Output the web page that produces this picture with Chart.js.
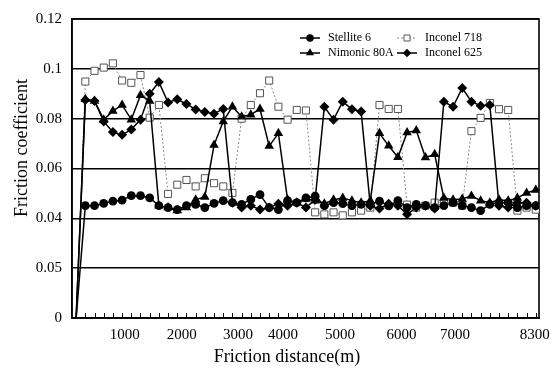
<!DOCTYPE html>
<html>
<head>
<meta charset="utf-8">
<script src="https://cdn.jsdelivr.net/npm/chart.js@4/dist/chart.umd.min.js"></script>
<style>
  html, body { margin: 0; padding: 0; background: #fff; }
  #wrap { width: 555px; height: 369px; position: relative; }
</style>
</head>
<body>
<div id="wrap"><canvas id="frictionChart"></canvas></div>
<script>
// measurement points along the friction distance (point 0 = start of test)
const pointIndex = Array.from({ length: 51 }, (_, i) => i);

const stellite6 = [
  0, 0.0451, 0.0451, 0.0460, 0.0469, 0.0473, 0.0491, 0.0491, 0.0482, 0.0451,
  0.0443, 0.0435, 0.0451, 0.0456, 0.0443, 0.0460, 0.0471, 0.0463, 0.0456, 0.0476,
  0.0495, 0.0443, 0.0435, 0.0471, 0.0463, 0.0482, 0.0489, 0.0451, 0.0463, 0.0459,
  0.0451, 0.0456, 0.0456, 0.0469, 0.0450, 0.0471, 0.0443, 0.0456, 0.0451, 0.0443,
  0.0451, 0.0463, 0.0451, 0.0443, 0.0431, 0.0456, 0.0463, 0.0463, 0.0443, 0.0451,
  0.0451,
];
const inconel718 = [
  0, 0.0949, 0.0992, 0.1005, 0.1022, 0.0953, 0.0944, 0.0975, 0.0804, 0.0855,
  0.0498, 0.0535, 0.0554, 0.0528, 0.0561, 0.0541, 0.0528, 0.0502, 0.0800, 0.0855,
  0.0902, 0.0953, 0.0848, 0.0796, 0.0835, 0.0833, 0.0424, 0.0416, 0.0424, 0.0412,
  0.0424, 0.0431, 0.0443, 0.0855, 0.0839, 0.0839, 0.0455, 0.0443, 0.0451, 0.0463,
  0.0467, 0.0463, 0.0451, 0.0750, 0.0803, 0.0863, 0.0838, 0.0835, 0.0431, 0.0443,
  0.0435,
];
const nimonic80A = [
  0, 0.0878, 0.0871, 0.0796, 0.0831, 0.0855, 0.0796, 0.0894, 0.0871, 0.0451,
  0.0443, 0.0431, 0.0443, 0.0475, 0.0486, 0.0694, 0.0789, 0.0848, 0.0808, 0.0816,
  0.0839, 0.0690, 0.0741, 0.0475, 0.0463, 0.0478, 0.0471, 0.0459, 0.0475, 0.0482,
  0.0471, 0.0463, 0.0471, 0.0741, 0.0691, 0.0645, 0.0744, 0.0753, 0.0644, 0.0657,
  0.0482, 0.0475, 0.0478, 0.0490, 0.0471, 0.0463, 0.0475, 0.0471, 0.0482, 0.0502,
  0.0514,
];
const inconel625 = [
  0, 0.0875, 0.0871, 0.0789, 0.0746, 0.0735, 0.0757, 0.0796, 0.0900, 0.0947,
  0.0865, 0.0878, 0.0859, 0.0837, 0.0827, 0.0820, 0.0839, 0.0463, 0.0443, 0.0451,
  0.0435, 0.0443, 0.0459, 0.0451, 0.0463, 0.0443, 0.0475, 0.0848, 0.0796, 0.0868,
  0.0838, 0.0829, 0.0451, 0.0439, 0.0459, 0.0451, 0.0416, 0.0443, 0.0451, 0.0439,
  0.0868, 0.0848, 0.0923, 0.0868, 0.0852, 0.0855, 0.0451, 0.0443, 0.0463, 0.0463,
  0.0451,
];

// distance labels and where they sit along the point axis
const xTickLabels = ["1000", "2000", "3000", "4000", "5000", "6000", "7000", "8300"];
const xTickPos = [5.3, 11.5, 17.6, 22.5, 28.7, 35.4, 41.2, 49.9];
// the printed axis labels (note the odd "0.05" in the original figure)
const yTickLabels = ["0", "0.05", "0.04", "0.06", "0.08", "0.1", "0.12"];

const SERIF = "'Liberation Serif', 'DejaVu Serif', serif";

function series(label, data, style) {
  return {
    label,
    data: data.map((v, i) => ({ x: pointIndex[i], y: v })),
    tension: 0,
    pointRadius: (ctx) => (ctx.dataIndex === 0 ? 0 : style.radius),
    ...style,
  };
}

const datasets = [
  series("Stellite 6", stellite6, {
    borderColor: "#000", backgroundColor: "#000", borderWidth: 1.5,
    pointStyle: "circle", radius: 4.4, pointBorderWidth: 0, order: 1,
  }),
  series("Inconel 718", inconel718, {
    borderColor: "#8a8a8a", backgroundColor: "#fff", borderWidth: 1,
    borderDash: [2, 2], pointBorderColor: "#555", pointBorderWidth: 1,
    pointStyle: "rect", radius: 5, order: 4,
  }),
  series("Nimonic 80A", nimonic80A, {
    borderColor: "#000", backgroundColor: "#000", borderWidth: 1.5,
    pointStyle: "triangle", radius: 5.5, pointBorderWidth: 0, order: 2,
  }),
  series("Inconel 625", inconel625, {
    borderColor: "#000", backgroundColor: "#000", borderWidth: 1.5,
    pointStyle: "rectRot", radius: 5, pointBorderWidth: 0, order: 3,
  }),
];

const framePlugin = {
  id: "frame",
  beforeDatasetsDraw(chart) {
    const { ctx, chartArea: a, scales } = chart;
    ctx.save();
    ctx.strokeStyle = "#000";
    ctx.lineWidth = 1.6;
    ctx.strokeRect(a.left, a.top, a.right - a.left, a.bottom - a.top);
    ctx.lineWidth = 1;
    pointIndex.slice(1).forEach((i) => {
      const x = Math.round(scales.x.getPixelForValue(i)) + 0.5;
      ctx.beginPath();
      ctx.moveTo(x, a.bottom);
      ctx.lineTo(x, a.bottom - 5);
      ctx.stroke();
    });
    ctx.restore();
  },
};

const titlesPlugin = {
  id: "titles",
  afterDraw(chart) {
    const { ctx } = chart;
    ctx.save();
    ctx.fillStyle = "#000";
    ctx.font = `18px ${SERIF}`;
    ctx.textAlign = "center";
    ctx.textBaseline = "middle";
    ctx.fillText("Friction distance(m)", 287, 357);
    ctx.translate(22, 148);
    ctx.rotate(-Math.PI / 2);
    ctx.fillText("Friction coefficient", 0, 0);
    ctx.restore();
  },
};

const legendPlugin = {
  id: "boxLegend",
  afterDraw(chart) {
    const { ctx } = chart;
    const spots = [
      { ds: 0, x: 310, y: 38 },
      { ds: 1, x: 407, y: 38 },
      { ds: 2, x: 310, y: 53 },
      { ds: 3, x: 407, y: 53 },
    ];
    ctx.save();
    ctx.font = `12px ${SERIF}`;
    ctx.textBaseline = "middle";
    spots.forEach(({ ds, x, y }) => {
      const d = chart.data.datasets[ds];
      ctx.strokeStyle = d.borderColor;
      ctx.lineWidth = d.borderWidth;
      ctx.setLineDash(d.borderDash || []);
      ctx.beginPath();
      ctx.moveTo(x - 10, y);
      ctx.lineTo(x + 10, y);
      ctx.stroke();
      ctx.setLineDash([]);
      ctx.fillStyle = d.backgroundColor;
      ctx.strokeStyle = d.pointBorderColor || d.borderColor;
      ctx.lineWidth = d.pointBorderWidth || 0;
      Chart.helpers.drawPoint(ctx, {
        pointStyle: d.pointStyle,
        radius: d.radius * 0.85,
        rotation: 0,
        borderWidth: d.pointBorderWidth || 0,
      }, x, y);
      ctx.fillStyle = "#000";
      ctx.fillText(d.label, x + 18, y);
    });
    ctx.restore();
  },
};

new Chart(document.getElementById("frictionChart"), {
  type: "line",
  data: { datasets },
  options: {
    responsive: true,
    maintainAspectRatio: false,
    animation: false,
    layout: { padding: { top: 12, right: 16, left: 0, bottom: 0 } },
    plugins: { legend: { display: false }, tooltip: { enabled: false } },
    scales: {
      x: {
        type: "linear",
        min: -0.45,
        max: 50.35,
        afterFit(scale) { scale.height = 51; },
        afterBuildTicks(scale) {
          scale.ticks = xTickPos.map((v) => ({ value: v }));
        },
        ticks: {
          autoSkip: false,
          maxRotation: 0,
          padding: 0,
          color: "#000",
          font: { family: SERIF, size: 15 },
          callback: (v, i) => xTickLabels[i],
        },
        grid: { display: false },
        border: { color: "#000", width: 1.6 },
      },
      y: {
        min: 0,
        max: 0.12,
        afterFit(scale) { scale.width = 72; },
        ticks: {
          stepSize: 0.02,
          padding: 10,
          color: "#000",
          font: { family: SERIF, size: 15 },
          callback: (v, i) => yTickLabels[i],
        },
        grid: { color: "#000", lineWidth: 1.4, drawTicks: false },
        border: { color: "#000", width: 1.6 },
      },
    },
  },
  plugins: [framePlugin, titlesPlugin, legendPlugin],
});
</script>
</body>
</html>
